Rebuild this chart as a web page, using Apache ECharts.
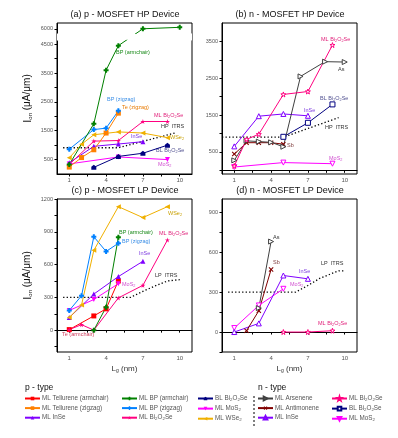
<!DOCTYPE html>
<html>
<head>
<meta charset="utf-8">
<script src="https://cdn.jsdelivr.net/npm/echarts@6/dist/echarts.min.js"></script>
<style>
html, body { margin: 0; padding: 0; background: #fff; }
#main { width: 398px; height: 438px; }
</style>
</head>
<body>
<div id="main"></div>
<script>
// gate length axis (nm)
var xLabels = [1, 4, 7, 10];
var xTicks = [1, 2.5, 4, 5.5, 7, 8.5, 10];

// (a) p - MOSFET HP, Ion in uA/um
var aYLabels = [500, 1500, 2500, 3500, 4500, 6000];
var aYTicks = [500, 1000, 1500, 2000, 2500, 3000, 3500, 4000, 4500, 6000];
var aBpArm = [[1, 330], [3, 1740], [4, 3600], [5, 4450], [7, 6000], [10, 6050]];
var aBpZig = [[1, 860], [3, 1540], [4, 1590], [5, 2190]];
var aTeZig = [[1, 240], [2, 570], [3, 840], [4, 1420], [5, 2110]];
var aBi2o2se = [[1, 330], [3, 1140], [5, 1160], [7, 1820], [9, 1820]];
var aInse = [[1, 390], [3, 960], [5, 1040], [7, 1120]];
var aWse2 = [[1, 560], [2, 1030], [3, 1360], [5, 1460], [7, 1420], [9, 1260]];
var aBlBi2o2se = [[3, 230], [5, 610], [7, 720], [9, 1000]];
var aMos2 = [[1, 350], [5, 590], [9, 500]];
var aItrs = [[0.5, 910], [5, 910], [9.6, 1420]];

// (b) n - MOSFET HP
var bYLabels = [500, 1500, 2500, 3500];
var bYTicks = [0, 500, 1000, 1500, 2000, 2500, 3000, 3500];
var bBi2o2se = [[1, 120], [2, 840], [3, 980], [5, 2060], [7, 2140], [9, 3400]];
var bArsenene = [[1, 270], [2, 800], [3, 780], [4, 760], [5, 640], [6.4, 2550], [8.4, 2950], [10, 2940]];
var bAntimonene = [[1, 440], [2, 750], [3, 750], [4, 750], [5, 710]];
var bInse = [[1, 650], [3, 1470], [5, 1530], [7, 1480]];
var bBlBi2o2se = [[5, 910], [7, 1290], [9, 1790]];
var bMos2 = [[1, 90], [5, 210], [9, 180]];
var bItrs = [[0, 900], [5, 900], [9.5, 1430]];

// (c) p - MOSFET LP
var cYLabels = [0, 300, 600, 900, 1200];
var cYTicks = [-150, 0, 150, 300, 450, 600, 750, 900, 1050, 1200];
var cWse2 = [[1, 115], [2, 230], [3, 730], [5, 1130], [7, 1030], [9, 1130]];
var cBpZig = [[1, 180], [2, 315], [3, 855], [4, 720], [5, 795]];
var cBpArm = [[3, 0], [4, 210], [5, 850]];
var cInse = [[1, 115], [3, 330], [5, 490], [7, 630]];
var cMos2 = [[1, 180], [3, 280], [5, 425]];
var cTeArm = [[1, 5], [3, 130], [4, 195], [5, 450]];
var cBi2o2se = [[1, 5], [2, 50], [3, 0], [5, 295], [7, 410], [9, 825]];
var cItrs = [[0.5, 300], [6, 300], [7, 355], [8, 405], [9, 450], [10, 462]];

// (d) n - MOSFET LP
var dYLabels = [0, 300, 600, 900];
var dYTicks = [-150, 0, 150, 300, 450, 600, 750, 900];
var dArsenene = [[3, 180], [4, 680]];
var dAntimonene = [[2, 10], [3, 160], [4, 470]];
var dInse = [[1, 0], [3, 65], [5, 425], [7, 400]];
var dMos2 = [[1, 30], [3, 200], [5, 325]];
var dBi2o2se = [[5, 0], [7, 0], [9, 10]];
var dItrs = [[0.5, 300], [6, 300], [7, 350], [8, 405], [9.5, 460], [10, 460]];

var FONT = 'Liberation Sans';
var PLUS = 'path://M3,0 L7,0 L7,3 L10,3 L10,7 L7,7 L7,10 L3,10 L3,7 L0,7 L0,3 L3,3 Z';
var STAR = 'path://M50,0 L61,35 L98,35 L68,57 L79,91 L50,70 L21,91 L32,57 L2,35 L39,35 Z';
var HOUSE = 'path://M5,0 L10,4 L10,10 L0,10 L0,4 Z';
var TRI_DOWN = 'path://M0,0 L10,0 L5,10 Z';
var TRI_LEFT = 'path://M0,5 L10,0 L10,10 Z';
var TRI_RIGHT = 'path://M0,0 L10,5 L0,10 Z';
var CROSS = 'path://M0,1.5 L1.5,0 L5,3.5 L8.5,0 L10,1.5 L6.5,5 L10,8.5 L8.5,10 L5,6.5 L1.5,10 L0,8.5 L3.5,5 Z';

// colour, symbol, open marker
var styles = {
	'ML Tellurene (armchair)': ['#ff0000', 'rect', false],
	'ML Tellurene (zigzag)': ['#ff8000', 'rect', false],
	'ML InSe': ['#8000ff', 'triangle', false],
	'ML BP (armchair)': ['#008000', PLUS, false],
	'ML BP (zigzag)': ['#0080ff', PLUS, false],
	'ML Bi2O2Se': ['#ff0080', STAR, false],
	'BL Bi2O2Se': ['#000080', HOUSE, false],
	'ML MoS2': ['#ff00ff', TRI_DOWN, false],
	'ML WSe2': ['#f0b000', TRI_LEFT, false],
	'n ML Arsenene': ['#404040', TRI_RIGHT, true],
	'n ML Antimonene': ['#800000', CROSS, false],
	'n ML InSe': ['#8000ff', 'triangle', true],
	'n ML Bi2O2Se': ['#ff0080', STAR, true],
	'n BL Bi2O2Se': ['#000080', 'rect', true],
	'n ML MoS2': ['#ff00ff', TRI_DOWN, true]
};

function sub(t) {
	return '{n|' + t.replace(/(\d)/g, '}{s|$1}{n|') + '}';
}

function line(name, panel, data) {
	var s = styles[name];
	return {
		name: name, type: 'line', xAxisIndex: panel, yAxisIndex: panel, data: data,
		symbol: s[1], symbolSize: 5, animation: false,
		lineStyle: { color: s[0], width: 1 },
		itemStyle: s[2] ? { color: '#fff', borderColor: s[0], borderWidth: 1 } : { color: s[0] }
	};
}

function itrs(name, panel, data) {
	return {
		name: name, type: 'line', xAxisIndex: panel, yAxisIndex: panel, data: data,
		symbol: 'none', animation: false, z: 1,
		lineStyle: { color: '#000', width: 1.3, type: [1.3, 2.2] }
	};
}

function xAxis(panel, withName) {
	return {
		gridIndex: panel, type: 'value', min: 0, max: 11,
		axisLine: { lineStyle: { color: '#000', width: 1 } },
		axisTick: { customValues: xTicks, length: 2.5, lineStyle: { color: '#000' } },
		axisLabel: { customValues: xLabels, fontSize: 6, color: '#555', margin: 3, fontFamily: FONT },
		splitLine: { show: false },
		name: withName ? '{n|L}{s|g}{n| (nm)}' : '',
		nameLocation: 'middle', nameGap: 13,
		nameTextStyle: { rich: { n: { fontSize: 8, color: '#333', fontFamily: FONT }, s: { fontSize: 5, color: '#333', verticalAlign: 'bottom', fontFamily: FONT } } }
	};
}

function yAxis(panel, min, max, labels, ticks, withName) {
	return {
		gridIndex: panel, type: 'value', min: min, max: max,
		axisLine: { show: true, lineStyle: { color: '#000', width: 1 } },
		axisTick: { show: true, customValues: ticks, length: 2.5, lineStyle: { color: '#000' } },
		axisLabel: {
			customValues: labels, fontSize: 5.5, color: '#555', margin: 4, fontFamily: FONT,
			formatter: function (v) { return String(v); }
		},
		splitLine: { show: false },
		name: withName ? '{b|I}{s|on}{n| (μA/μm)}' : '',
		nameLocation: 'middle', nameRotate: 90, nameGap: 24,
		nameTextStyle: { rich: {
			b: { fontSize: 11, color: '#111', fontFamily: FONT },
			n: { fontSize: 10, color: '#111', fontFamily: FONT },
			s: { fontSize: 6, color: '#111', verticalAlign: 'bottom', fontFamily: FONT }
		} }
	};
}

function note(x, y, t, color, size) {
	size = size || 5.5;
	return {
		type: 'text', x: x, y: y, silent: true,
		style: {
			text: sub(t), verticalAlign: 'middle',
			rich: {
				n: { fontSize: size, fill: color, fontFamily: FONT, lineHeight: size + 2 },
				s: { fontSize: size * 0.7, fill: color, fontFamily: FONT, verticalAlign: 'bottom' }
			}
		}
	};
}

function heading(x, y, t, size, align) {
	return {
		type: 'text', x: x, y: y, silent: true,
		style: { text: t, fontSize: size, fill: '#111', fontFamily: FONT, align: align || 'center', verticalAlign: 'middle' }
	};
}

function legend(left, names) {
	return {
		left: left, top: 395.5, orient: 'vertical', itemWidth: 15, itemHeight: 4.5, itemGap: 3.6,
		padding: 0, selectedMode: false, data: names,
		formatter: function (name) { return sub(name.replace(/^n /, '')); },
		textStyle: { padding: [0, 0, 0, -3], rich: {
			n: { fontSize: 6.3, color: '#555', fontFamily: FONT, lineHeight: 7 },
			s: { fontSize: 4.4, color: '#555', fontFamily: FONT, verticalAlign: 'bottom' }
		} }
	};
}

var chart = echarts.init(document.getElementById('main'), null, { renderer: 'canvas' });

var yA = yAxis(0, 0, 6200, aYLabels, aYTicks, true);
yA.breaks = [{ start: 4650, end: 5850, gap: '4.5%' }];
yA.breakArea = { show: true, expandOnClick: false, zigzagAmplitude: 1.5, itemStyle: { color: '#fff', borderWidth: 0, opacity: 1 } };

var option = {
	backgroundColor: '#fff',
	animation: false,
	grid: [
		{ left: 57, top: 23, width: 135, height: 151, show: true, borderColor: '#000', borderWidth: 1 },
		{ left: 222, top: 23, width: 135, height: 151, show: true, borderColor: '#000', borderWidth: 1 },
		{ left: 57, top: 199, width: 135, height: 153, show: true, borderColor: '#000', borderWidth: 1 },
		{ left: 222, top: 199, width: 135, height: 153, show: true, borderColor: '#000', borderWidth: 1 }
	],
	xAxis: [xAxis(0, false), xAxis(1, false), xAxis(2, true), xAxis(3, true)],
	yAxis: [
		yA,
		yAxis(1, -100, 4000, bYLabels, bYTicks, false),
		yAxis(2, -200, 1200, cYLabels, cYTicks, true),
		yAxis(3, -150, 1000, dYLabels, dYTicks, false)
	],
	legend: [
		legend(24, ['ML Tellurene (armchair)', 'ML Tellurene (zigzag)', 'ML InSe']),
		legend(121, ['ML BP (armchair)', 'ML BP (zigzag)', 'ML Bi2O2Se']),
		legend(197, ['BL Bi2O2Se', 'ML MoS2', 'ML WSe2']),
		legend(257, ['n ML Arsenene', 'n ML Antimonene', 'n ML InSe']),
		legend(331, ['n ML Bi2O2Se', 'n BL Bi2O2Se', 'n ML MoS2'])
	],
	series: [
		itrs('HP ITRS', 0, aItrs),
		line('ML MoS2', 0, aMos2),
		line('BL Bi2O2Se', 0, aBlBi2o2se),
		line('ML InSe', 0, aInse),
		line('ML WSe2', 0, aWse2),
		line('ML Bi2O2Se', 0, aBi2o2se),
		line('ML Tellurene (zigzag)', 0, aTeZig),
		line('ML BP (zigzag)', 0, aBpZig),
		line('ML BP (armchair)', 0, aBpArm),

		itrs('HP ITRS', 1, bItrs),
		line('n ML MoS2', 1, bMos2),
		line('n BL Bi2O2Se', 1, bBlBi2o2se),
		line('n ML InSe', 1, bInse),
		line('n ML Antimonene', 1, bAntimonene),
		line('n ML Arsenene', 1, bArsenene),
		line('n ML Bi2O2Se', 1, bBi2o2se),

		itrs('LP ITRS', 2, cItrs),
		line('ML Tellurene (armchair)', 2, cTeArm),
		line('ML Bi2O2Se', 2, cBi2o2se),
		line('ML MoS2', 2, cMos2),
		line('ML InSe', 2, cInse),
		line('ML BP (armchair)', 2, cBpArm),
		line('ML BP (zigzag)', 2, cBpZig),
		line('ML WSe2', 2, cWse2),

		itrs('LP ITRS', 3, dItrs),
		line('n ML Bi2O2Se', 3, dBi2o2se),
		line('n ML MoS2', 3, dMos2),
		line('n ML InSe', 3, dInse),
		line('n ML Antimonene', 3, dAntimonene),
		line('n ML Arsenene', 3, dArsenene)
	],
	graphic: [
		heading(125, 15, '(a) p - MOSFET HP Device', 9),
		heading(290, 15, '(b) n - MOSFET HP Device', 9),
		heading(125, 191, '(c) p - MOSFET LP Device', 9),
		heading(290, 191, '(d) n - MOSFET LP Device', 9),
		heading(25, 388, 'p - type', 8.5, 'left'),
		heading(258, 388, 'n - type', 8.5, 'left'),
		{ type: 'line', silent: true, shape: { x1: 254, y1: 396, x2: 254, y2: 427 }, style: { stroke: '#000', lineWidth: 1, lineDash: [2, 2] } },

		note(116, 52, 'BP (armchair)', '#1a8a1a'),
		note(107, 99, 'BP (zigzag)', '#3a8ee6'),
		note(122, 107, 'Te (zigzag)', '#e87a00'),
		note(154, 115, 'ML Bi2O2Se', '#e0207a'),
		note(161, 126, 'HP  ITRS', '#333'),
		note(131, 136, 'InSe', '#8040e0'),
		note(170, 137, 'WSe2', '#c8a000'),
		note(156, 150, 'BL Bi2O2Se', '#505090'),
		note(158, 164, 'MoS2', '#d050d0'),

		note(321, 39, 'ML Bi2O2Se', '#e0207a'),
		note(338, 69, 'As', '#333'),
		note(320, 98, 'BL Bi2O2Se', '#505090'),
		note(304, 110, 'InSe', '#8040e0'),
		note(325, 127, 'HP  ITRS', '#333'),
		note(287, 145, 'Sb', '#804040'),
		note(329, 158, 'MoS2', '#d050d0'),

		note(168, 213, 'WSe2', '#c8a000'),
		note(119, 232, 'BP (armchair)', '#1a8a1a'),
		note(159, 233, 'ML Bi2O2Se', '#e0207a'),
		note(122, 241, 'BP (zigzag)', '#3a8ee6'),
		note(139, 253, 'InSe', '#8040e0'),
		note(155, 275, 'LP  ITRS', '#333'),
		note(122, 284, 'MoS2', '#d050d0'),
		note(62, 334, 'Te (armchair)', '#d04060'),

		note(273, 237, 'As', '#333'),
		note(273, 262, 'Sb', '#804040'),
		note(321, 263, 'LP  ITRS', '#333'),
		note(299, 271, 'InSe', '#8040e0'),
		note(290, 284, 'MoS2', '#d050d0'),
		note(318, 323, 'ML Bi2O2Se', '#e0207a')
	]
};

chart.setOption(option);
</script>
</body>
</html>
